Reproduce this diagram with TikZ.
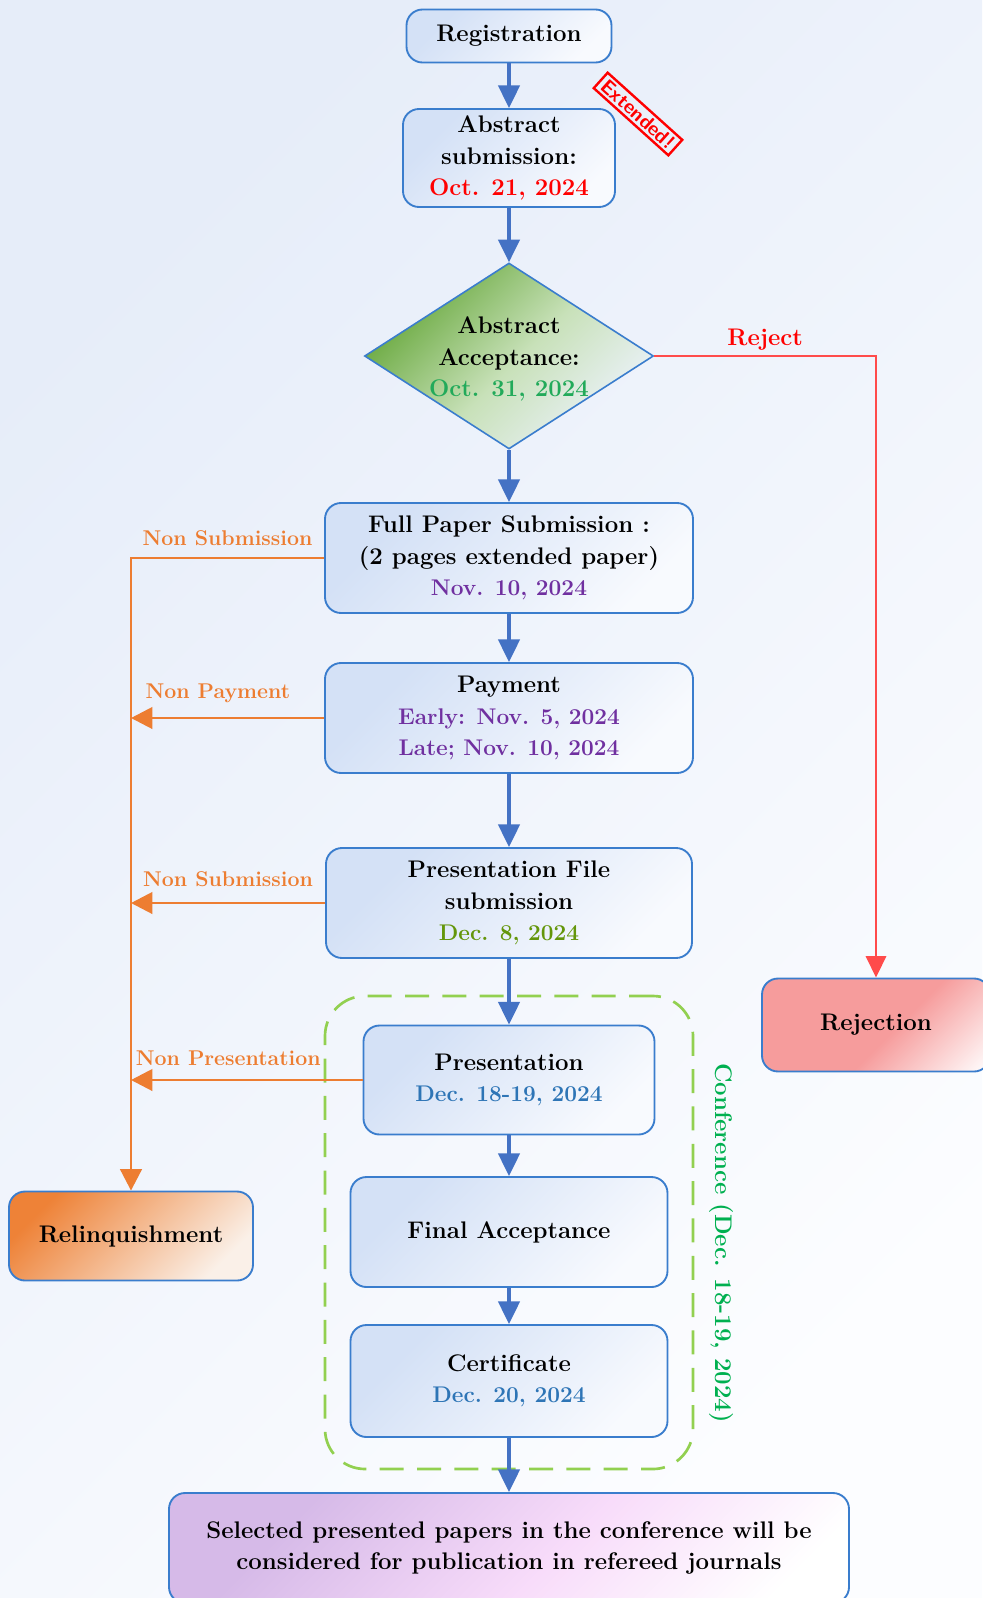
\documentclass[tikz,border=0pt]{standalone}
\usepackage{fontspec}
\usetikzlibrary{shapes.geometric,arrows.meta}

\definecolor{boxline}{RGB}{58,125,205}
\definecolor{flowblue}{RGB}{68,114,196}
\definecolor{boxtint}{RGB}{212,225,246}
\definecolor{boxlight}{RGB}{248,250,254}
\definecolor{diadark}{RGB}{112,173,71}
\definecolor{diamid}{RGB}{200,225,185}
\definecolor{dialight}{RGB}{236,242,250}
\definecolor{rejpink}{RGB}{246,156,156}
\definecolor{rejred}{RGB}{255,75,75}
\definecolor{relorange}{RGB}{238,130,55}
\definecolor{relpale}{RGB}{250,240,232}
\definecolor{selpurple}{RGB}{214,186,232}
\definecolor{selpink}{RGB}{248,220,250}
\definecolor{nonorange}{RGB}{237,125,49}
\definecolor{dashgreen}{RGB}{146,208,80}
\definecolor{confgreen}{RGB}{0,176,80}
\definecolor{datered}{RGB}{255,0,0}
\definecolor{dategreen}{RGB}{34,170,90}
\definecolor{datepurple}{RGB}{112,48,160}
\definecolor{dateolive}{RGB}{100,150,10}
\definecolor{dateblue}{RGB}{46,117,182}
\definecolor{bgtint}{RGB}{230,237,249}
\definecolor{bglight}{RGB}{252,253,255}

\pgfdeclarehorizontalshading{boxshade}{100bp}{color(0bp)=(boxtint); color(28bp)=(boxtint); color(75bp)=(boxlight); color(100bp)=(boxlight)}
\pgfdeclarehorizontalshading{diashade}{100bp}{color(0bp)=(diadark); color(28bp)=(diadark); color(52bp)=(diamid); color(75bp)=(dialight); color(100bp)=(dialight)}
\pgfdeclarehorizontalshading{rejshade}{100bp}{color(0bp)=(rejpink); color(55bp)=(rejpink); color(85bp)=(white); color(100bp)=(white)}
\pgfdeclarehorizontalshading{relshade}{100bp}{color(0bp)=(relorange); color(25bp)=(relorange); color(75bp)=(relpale); color(100bp)=(relpale)}
\pgfdeclarehorizontalshading{selshade}{100bp}{color(0bp)=(selpurple); color(28bp)=(selpurple); color(55bp)=(selpink); color(78bp)=(white); color(100bp)=(white)}
\pgfdeclarehorizontalshading{bgshade}{100bp}{color(0bp)=(bgtint); color(25bp)=(bgtint); color(75bp)=(bglight); color(100bp)=(bglight)}

\newcommand\flowfont{\bfseries\fontsize{18}{23.5}\selectfont}
\newcommand\datefont{\fontsize{17}{23.5}\selectfont}

\tikzset{
  box/.style={draw=boxline, line width=1.4pt, rounded corners=12pt, shade, shading=boxshade, shading angle=-45, align=center, font=\flowfont},
  dia/.style={diamond, draw=boxline, line width=1.2pt, shade, shading=diashade, shading angle=-45, inner sep=0pt, minimum width=216.75pt, minimum height=139.5pt},
  stamp/.style={draw=red, line width=1.8pt, text=red, font=\sffamily\bfseries\fontsize{15}{17}\selectfont, rotate=-42, inner xsep=3pt, inner ysep=2.5pt},
  flow/.style={draw=flowblue, line width=2.5pt, -{Triangle[length=17pt,width=16pt]}},
  rejline/.style={draw=rejred, line width=2.2pt, -{Triangle[length=16pt,width=15pt]}},
  nonline/.style={draw=nonorange, line width=2.2pt, -{Triangle[length=16pt,width=16pt]}},
  nonlab/.style={text=nonorange, font=\bfseries\fontsize{16}{20}\selectfont},
  confbox/.style={draw=dashgreen, line width=2pt, dash pattern=on 18pt off 10pt, rounded corners=30pt}
}

\begin{document}
\begin{tikzpicture}[x=0.75pt,y=0.75pt,yscale=-1,xscale=1]
\useasboundingbox (0,0) rectangle (982,1598);
%Background
\shade[shading=bgshade, shading angle=-45] (0,0) rectangle (982,1598);

%Shape: Conference frame
\node[confbox, minimum width=276pt, minimum height=354.75pt] (conf) at (509,1232.5) {};
% Text Node
\node[text=confgreen, rotate=-90, font=\bfseries\fontsize{18}{22}\selectfont] (conflab) at (721,1243) {Conference (Dec. 18-19, 2024)};

%Shape: Boxes
\node[box, minimum width=153.75pt, minimum height=39.75pt] (reg) at (509,36) {Registration};
\node[box, minimum width=159pt, minimum height=73.5pt] (abs) at (509,158) {Abstract\\submission:\\\textcolor{datered}{Oct. 21, 2024}};
\node[stamp] (ext) at (638,114) {Extended!};
%Shape: Diamond
\node[dia] (acc) at (509,356) {};
% Text Node
\node[align=center, font=\flowfont] (acctxt) at (509,359) {Abstract\\Acceptance:\\\textcolor{dategreen}{Oct. 31, 2024}};
\node[box, minimum width=276pt, minimum height=82.5pt] (full) at (509,558) {Full Paper Submission :\\(2 pages extended paper)\\{\datefont\color{datepurple}Nov. 10, 2024}};
\node[box, minimum width=276pt, minimum height=82.5pt] (pay) at (509,718) {Payment\\{\datefont\color{datepurple}Early: Nov. 5, 2024}\\{\datefont\color{datepurple}Late; Nov. 10, 2024}};
\node[box, minimum width=274.5pt, minimum height=82.5pt] (pfile) at (509,903) {Presentation File\\submission\\{\datefont\color{dateolive}Dec. 8, 2024}};
\node[box, minimum width=218.25pt, minimum height=81.75pt] (pres) at (509,1080) {Presentation\\{\datefont\color{dateblue}Dec. 18-19, 2024}};
\node[box, minimum width=237.75pt, minimum height=82.5pt] (final) at (509,1232) {Final Acceptance};
\node[box, minimum width=237.75pt, minimum height=84pt] (cert) at (509,1381) {Certificate\\{\datefont\color{dateblue}Dec. 20, 2024}};
\node[box, shading=selshade, minimum width=510pt, minimum height=82.5pt] (sel) at (509,1548) {Selected presented papers in the conference will be\\considered for publication in refereed journals};
\node[box, shading=rejshade, minimum width=171pt, minimum height=69.75pt] (rej) at (876,1025) {Rejection};
\node[box, shading=relshade, minimum width=183pt, minimum height=66.75pt] (relinq) at (131,1236) {Relinquishment};

%Straight Lines
\draw[flow] (reg) -- (abs);
\draw[flow] (abs) -- (acc);
\draw[flow] (acc) -- (full);
\draw[flow] (full) -- (pay);
\draw[flow] (pay) -- (pfile);
\draw[flow] (pfile) -- (pres);
\draw[flow] (pres) -- (final);
\draw[flow] (final) -- (cert);
\draw[flow] (cert) -- (sel);

\draw[rejline] (acc.east) -| node[pos=0.25, above=0pt, text=datered, font=\flowfont] {Reject} (rej.north);

\draw[nonline] (full.west) -| node[pos=0.25, above=5pt, nonlab] {Non Submission} (relinq.north);
\draw[nonline] (pay.west) -- node[pos=0.55, above=7pt, nonlab] {Non Payment} (pay.west -| relinq.north);
\draw[nonline] (pfile.west) -- node[pos=0.5, above=8pt, nonlab] {Non Submission} (pfile.west -| relinq.north);
\draw[nonline] (pres.west) -- node[pos=0.58, above=6pt, nonlab] {Non Presentation} (pres.west -| relinq.north);

\end{tikzpicture}
\end{document}
